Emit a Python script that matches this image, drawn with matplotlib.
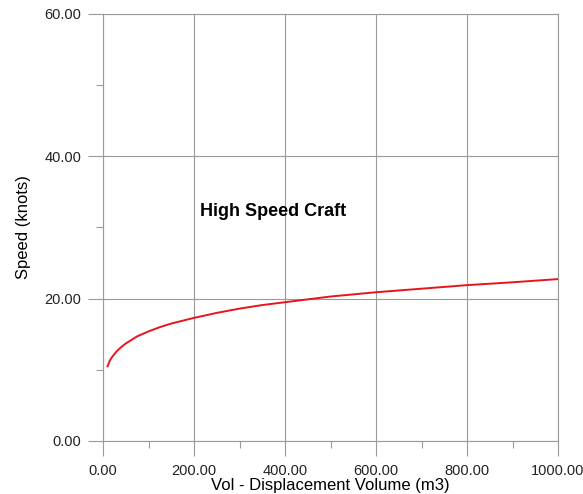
import matplotlib
matplotlib.use("Agg")
import matplotlib.pyplot as plt
from matplotlib.ticker import MultipleLocator, FormatStrFormatter

plt.rcParams['font.family'] = ['Liberation Sans', 'DejaVu Sans']

# curve
volume = [10, 15, 20, 30, 40, 50, 60, 75, 100, 125, 150, 200, 250, 300, 350, 400,
          500, 600, 700, 800, 900, 1000]
speed = [10.5, 11.3, 11.8, 12.6, 13.2, 13.7, 14.1, 14.7, 15.4, 16.0, 16.5, 17.3, 18.0,
         18.6, 19.1, 19.5, 20.3, 20.9, 21.4, 21.9, 22.3, 22.75]

grey = '#9a9a9a'

fig = plt.figure(figsize=(5.83, 4.94), dpi=100)
ax = fig.add_axes([0.1767, 0.1073, 0.7805, 0.8644])

ax.plot(volume, speed, color='#e8141c', lw=1.4)

ax.set_xlim(0, 1000)
ax.set_ylim(0, 60)
ax.xaxis.set_major_locator(MultipleLocator(200))
ax.xaxis.set_minor_locator(MultipleLocator(100))
ax.yaxis.set_major_locator(MultipleLocator(20))
ax.yaxis.set_minor_locator(MultipleLocator(10))
ax.xaxis.set_major_formatter(FormatStrFormatter('%.2f'))
ax.yaxis.set_major_formatter(FormatStrFormatter('%.2f'))

ax.grid(True, which='major', color=grey, lw=0.8)
ax.tick_params(which='major', length=10.5, width=0.8, color=grey, labelsize=10.5,
               labelcolor='#222222')
ax.tick_params(axis='y', which='major', pad=5)
ax.tick_params(axis='x', which='major', pad=6)
ax.tick_params(which='minor', length=5, width=0.8, color=grey)
for s in ax.spines.values():
    s.set_color(grey)
    s.set_linewidth(0.8)

ax.set_xlabel('Vol - Displacement Volume (m3)', fontsize=12, labelpad=0)
ax.set_ylabel('Speed (knots)', fontsize=12, labelpad=10)

ax.text(374, 32.2, 'High Speed Craft', fontsize=13, fontweight='bold',
        ha='center', va='center')

fig.savefig('out.png', dpi=100)
